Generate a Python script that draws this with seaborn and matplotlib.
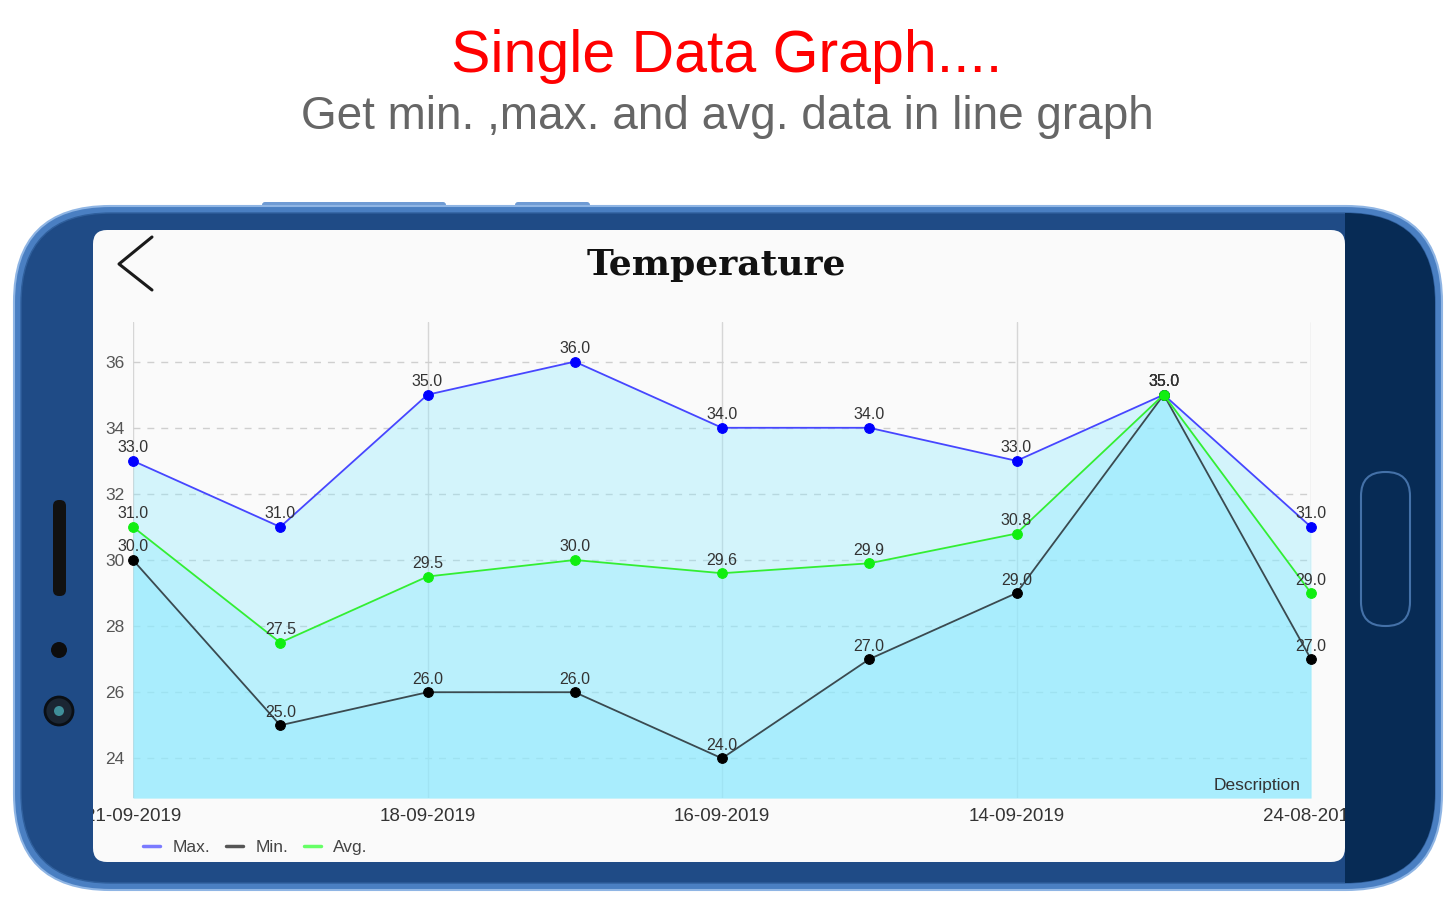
import matplotlib
matplotlib.use("Agg")
import matplotlib.pyplot as plt
import matplotlib.transforms as mtransforms
import pandas as pd
import seaborn as sns
from matplotlib.lines import Line2D
from matplotlib.patches import Circle, FancyBboxPatch, Rectangle

W, H = 1454, 900

# chart data
days = list(range(9))
tick_pos = [0, 2, 4, 6, 8]
tick_labels = ["21-09-2019", "18-09-2019", "16-09-2019", "14-09-2019", "24-08-2019"]
max_temp = [33.0, 31.0, 35.0, 36.0, 34.0, 34.0, 33.0, 35.0, 31.0]
min_temp = [30.0, 25.0, 26.0, 26.0, 24.0, 27.0, 29.0, 35.0, 27.0]
avg_temp = [31.0, 27.5, 29.5, 30.0, 29.6, 29.9, 30.8, 35.0, 29.0]
y_ticks = [24, 26, 28, 30, 32, 34, 36]
series_names = ["Max.", "Min.", "Avg."]

# line colour, marker colour, legend colour
styles = {
    "Max.": ("#4646ff", "#0000ff", "#7a7aff"),
    "Min.": ("#3a4a50", "#000000", "#555555"),
    "Avg.": ("#33ee33", "#11ee11", "#66ff66"),
}

df = pd.DataFrame({"day": days, "Max.": max_temp, "Min.": min_temp, "Avg.": avg_temp})

sns.set_theme(style="white")
plt.rcParams["font.family"] = ["Liberation Sans", "DejaVu Sans"]

fig = plt.figure(figsize=(W / 100, H / 100), dpi=100)
fig.patch.set_facecolor("white")

# pixel coords (y down) -> figure
px = mtransforms.Affine2D().scale(1 / W, -1 / H).translate(0, 1) + fig.transFigure


def rbox(x0, y0, x1, y1, r, **kw):
    p = FancyBboxPatch((x0, y0), x1 - x0, y1 - y0,
                       boxstyle=f"round,pad=0,rounding_size={r}",
                       transform=px, **kw)
    fig.add_artist(p)
    return p


# --- phone body ---
rbox(14, 206, 1442, 890, 96, facecolor="#4a7fc2", edgecolor="#8fb5e4", lw=1.5, zorder=-10)
inner = rbox(21, 213, 1435, 883, 90, facecolor="#1f4b86", edgecolor="#2f5f9c", lw=1, zorder=-9)
dark = Rectangle((1345, 200), 110, 700, transform=px, facecolor="#072b55", lw=0, zorder=-8)
fig.add_artist(dark)
dark.set_clip_path(inner)
rbox(262, 202, 446, 209, 3, facecolor="#6f9bd4", lw=0, zorder=-11)
rbox(515, 202, 590, 209, 3, facecolor="#6f9bd4", lw=0, zorder=-11)
rbox(53, 500, 66, 596, 6, facecolor="#111111", lw=0, zorder=-7)
fig.add_artist(Circle((59, 650), 8, transform=px, facecolor="#0d0d0d", lw=0, zorder=-7))
fig.add_artist(Circle((59, 711), 14, transform=px, facecolor="#1b2633", edgecolor="#0a0f15", lw=2, zorder=-7))
fig.add_artist(Circle((59, 711), 5, transform=px, facecolor="#3f8f9a", lw=0, zorder=-6))
rbox(1361, 472, 1410, 626, 24, facecolor="none", edgecolor="#4471a8", lw=1.5, zorder=-7)

# screen
rbox(93, 230, 1345, 862, 14, facecolor="#fafafa", lw=0, zorder=-5)

# back arrow
fig.add_artist(Line2D([152, 119, 152], [237, 264, 290], transform=px, color="#1a1a1a", lw=2.2))

# headings
fig.text(727 / W, 1 - 57 / H, "Single Data Graph....", color="#ff0000", fontsize=42.5,
         ha="center", va="center")
fig.text(727 / W, 1 - 117 / H, "Get min. ,max. and avg. data in line graph", color="#666666",
         fontsize=33, ha="center", va="center")
fig.text(716 / W, 1 - 265 / H, "Temperature", family="DejaVu Serif", weight="bold",
         fontsize=26, color="#111111", ha="center", va="center")

# --- chart ---
y_bottom, y_top = 22.8, 37.2
ax = fig.add_axes([133 / W, 1 - 798 / H, (1311 - 133) / W, (798 - 322) / H])
ax.patch.set_alpha(0)
ax.set_axisbelow(True)

for name in series_names:
    ax.fill_between(df["day"], df[name], y_bottom, color="#8ceaff", alpha=0.35, lw=0, zorder=1)

for name in series_names:
    lc, mc, _ = styles[name]
    sns.lineplot(data=df, x="day", y=name, ax=ax, color=lc, lw=1.3, marker="o",
                 markersize=7, markerfacecolor=mc, markeredgecolor=mc, clip_on=False,
                 zorder=3, label=name)
    for x, v in zip(df["day"], df[name]):
        ax.annotate(f"{v:.1f}", (x, v), xytext=(0, 4), textcoords="offset points",
                    ha="center", va="bottom", fontsize=11.5, color="#333333", zorder=5)

ax.set_xlim(0, 8)
ax.set_ylim(y_bottom, y_top)
ax.set_xticks(tick_pos)
ax.set_xticklabels(tick_labels)
ax.set_yticks(y_ticks)
ax.set_xlabel("")
ax.set_ylabel("")
ax.grid(axis="x", color="#d6d6d6", lw=1, ls="-")
ax.grid(axis="y", color="#cfcfcf", lw=1, ls=(0, (5, 5)))
ax.tick_params(axis="y", length=0, pad=6, labelsize=12.5, labelcolor="#555555")
ax.tick_params(axis="x", length=0, pad=7, labelsize=13.5, labelcolor="#333333")
for s in ax.spines.values():
    s.set_visible(False)

screen_clip = mtransforms.TransformedBbox(
    mtransforms.Bbox([[93 / W, 1 - 862 / H], [1345 / W, 1 - 230 / H]]), fig.transFigure)
for lab in ax.get_xticklabels():
    lab.set_clip_box(screen_clip)
    lab.set_clip_on(True)

ax.text(0.991, 0.011, "Description", transform=ax.transAxes, ha="right", va="bottom",
        fontsize=12.5, color="#333333")

handles = [Line2D([], [], color=styles[n][2], lw=2.5) for n in series_names]
ax.legend(handles, series_names, loc="center left", bbox_to_anchor=(143 / W, 1 - 847 / H),
          bbox_transform=fig.transFigure, ncol=3, frameon=False, fontsize=12.5,
          handlelength=1.0, handletextpad=0.7, columnspacing=0.9, labelcolor="#444444",
          borderpad=0, borderaxespad=0)

fig.savefig("out.png", dpi=100)
